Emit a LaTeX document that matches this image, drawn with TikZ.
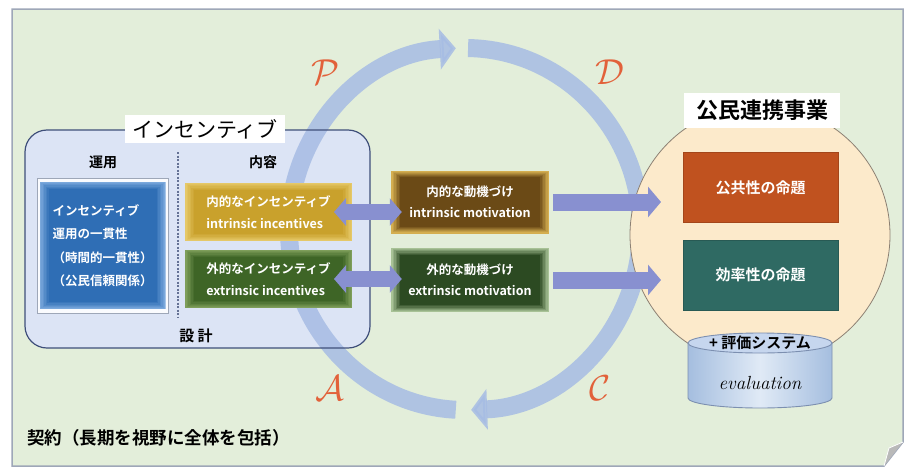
\documentclass[tikz,border=0pt]{standalone}
\usepackage{fontspec}
\usetikzlibrary{arrows.meta}
\newfontfamily\jp{Noto Sans CJK JP}[BoldFont={Noto Sans CJK JP Bold}]
\definecolor{pagebg}{HTML}{E3EEDA}
\definecolor{pageborder}{HTML}{9EA7B8}
\definecolor{incfill}{HTML}{DCE4F5}
\definecolor{incborder}{HTML}{3F4F7A}
\definecolor{cyc}{HTML}{A6BCE4}
\definecolor{flowc}{HTML}{8890D0}
\definecolor{bluebox}{HTML}{2F6EB5}
\definecolor{blueedge}{HTML}{7AA8DC}
\definecolor{goldbox}{HTML}{C9A12C}
\definecolor{goldedge}{HTML}{E5C868}
\definecolor{greenbox}{HTML}{3E6526}
\definecolor{greenedge}{HTML}{7E9E5A}
\definecolor{mbrown}{HTML}{6B4A16}
\definecolor{mgold}{HTML}{D4AE50}
\definecolor{mgreen}{HTML}{2C4A22}
\definecolor{mlgreen}{HTML}{A8C296}
\definecolor{cream}{HTML}{FCEACB}
\definecolor{orangebox}{HTML}{C0521F}
\definecolor{tealbox}{HTML}{2F6A63}
\definecolor{cylside}{HTML}{A5BEDF}
\definecolor{cylmid}{HTML}{E0EAF6}
\definecolor{cyltop}{HTML}{C6D6EE}
\definecolor{cylborder}{HTML}{7C8FB0}
\definecolor{pdca}{HTML}{E2613A}
\tikzset{
  jpfont/.style={font=\jp\bfseries\fontsize{#1}{#1}\selectfont},
  incitem/.style={rectangle, minimum width=167pt, minimum height=58pt, line width=2pt, text=white,
     align=left, font=\jp\bfseries\fontsize{12.5}{22}\selectfont, inner sep=0pt},
  glow/.style 2 args={path picture={
     \foreach \i/\c in {0/100,1.5/85,3/68,4.5/50,6/32,7.5/16,9/0}
       \fill[#1!\c!#2] ([shift={(\i pt,-0.75*\i pt)}]path picture bounding box.north west)
          rectangle ([shift={(-\i pt,0.75*\i pt)}]path picture bounding box.south east);}},
  motbox/.style={rectangle, minimum width=158pt, minimum height=63pt, text=white,
     align=center, font=\jp\bfseries\fontsize{12.5}{21}\selectfont, inner sep=0pt},
  propbox/.style={rectangle, minimum width=155pt, minimum height=70pt, text=white,
     font=\jp\bfseries\fontsize{15}{15}\selectfont},
  cycarrow/.style={draw=cyc, line width=18pt, opacity=0.85, -{Triangle[width=40pt,length=16pt]}},
  flow/.style={draw=flowc, line width=17pt, -{Triangle[width=30pt,length=13pt]}},
  dblflow/.style={draw=flowc, line width=16pt, {Triangle[width=27pt,length=12pt]}-{Triangle[width=27pt,length=12pt]}},
  pdcaletter/.style={text=pdca, font=\Huge, scale=1.45, transform shape, inner sep=0pt},
}
\begin{document}
\begin{tikzpicture}[x=1pt,y=-1pt]
\useasboundingbox (0,0) rectangle (910,471);
% page
\fill[white] (0,0) rectangle (910,471);
\draw[fill=pagebg, draw=pageborder, line width=1.5pt] (12,9) -- (903,9) -- (903,442) -- (884,466) -- (12,466) -- cycle;
\fill[gray!55] (903,442) -- (884,466) -- (889,448) -- cycle;
\draw[white, line width=0.8pt] (884,466) -- (889,448) -- (903,442);
% incentive box
\node[rectangle, fill=incfill, rounded corners=22pt, minimum width=345pt, minimum height=218pt] (incbox) at (197.5,239) {};
% cycle arcs
\coordinate (cc) at (465,229);
\draw[cycarrow] (cc) ++(267:176pt and 181pt) arc[start angle=267, end angle=93, x radius=176pt, y radius=181pt];
\draw[cycarrow] (cc) ++(89:176pt and 181pt) arc[start angle=89, end angle=-88, x radius=176pt, y radius=181pt];
% incentive box border
\draw[incborder, line width=1.2pt, rounded corners=22pt] (25,130) rectangle (370,348);
\node[rectangle, fill=white, minimum width=160pt, minimum height=28pt, font=\jp\fontsize{21}{21}\selectfont, inner sep=0pt] (inclabel) at (205,129) {インセンティブ};
\node[jpfont=14] (unyo) at (103,162) {運用};
\node[jpfont=14] (naiyo) at (263,162) {内容};
\node[jpfont=15] (sekkei) at (196,336) {設\ 計};
\draw[incborder!80, line width=1.2pt, dash pattern=on 2pt off 1.5pt] (178,152) -- (178,318);
\node[rectangle, draw=pageborder, fill=white!85!incfill, line width=0.8pt, minimum width=131pt, minimum height=135pt] (blueframe) at (102.5,245.5) {};
\node[rectangle, glow={blueedge}{bluebox}, minimum width=126pt, minimum height=127pt, text=white, align=left,
      font=\jp\bfseries\fontsize{12.5}{23.5}\selectfont] (bluebox) at (102.5,245.5) {インセンティブ\\運用の一貫性\\（時間的一貫性）\\（公民信頼関係）};
\node[incitem, glow={goldedge}{goldbox}] (inc1) at (268.5,212) {内的なインセンティブ\\intrinsic incentives};
\node[incitem, glow={greenedge}{greenbox}] (inc2) at (268.5,279) {外的なインセンティブ\\extrinsic incentives};
% motivation boxes
\node[motbox, glow={mgold}{mbrown}] (mot1) at (470,202) {内的な動機づけ\\intrinsic motivation};
\node[motbox, glow={mlgreen}{mgreen}, minimum height=64pt] (mot2) at (470,280) {外的な動機づけ\\extrinsic motivation};
\draw[dblflow] ([xshift=-19pt]inc1.east) -- ([xshift=11pt]mot1.west |- inc1.east);
\draw[dblflow] ([xshift=-19pt]inc2.east) -- ([xshift=11pt]mot2.west |- inc2.east);
% public-private side
\node[circle, fill=cream, draw=gray!80!brown, line width=0.8pt, minimum size=260pt, inner sep=0pt] (pubcircle) at (760,235) {};
\coordinate (e1) at (661,202);
\coordinate (e2) at (661,280);
\draw[flow] ([xshift=4pt]mot1.east) -- (e1);
\draw[flow] ([xshift=4pt]mot2.east) -- (e2);
\node[rectangle, fill=white, minimum width=156pt, minimum height=35pt, inner sep=0pt, jpfont=22] (publabel) at (762,110) {公民連携事業};
\node[propbox, fill=orangebox, draw=orangebox!85!black] (pub) at (760.5,187.5) {公共性の命題};
\node[propbox, fill=tealbox, draw=tealbox!85!black] (eff) at (760.5,275) {効率性の命題};
% cylinder
\shade[left color=cylside, right color=cylside, middle color=cylmid, draw=cylborder, line width=0.9pt]
  (688,343) -- (688,398) arc[start angle=180, end angle=360, x radius=72pt, y radius=10pt] -- (832,343) -- cycle;
\draw[fill=cyltop, draw=cylborder, line width=0.9pt] (760,343) ellipse[x radius=72pt, y radius=10pt];
\node[jpfont=15] (evalsys) at (760,343) {+ 評価システム};
\node[font=\itshape\fontsize{19}{19}\selectfont] (evaltext) at (760,383) {evaluation};
% PDCA letters
\node[pdcaletter] (lp) at (326,72) {$\mathcal{P}$};
\node[pdcaletter] (ld) at (610,72) {$\mathcal{D}$};
\node[pdcaletter] (la) at (330,388) {$\mathcal{A}$};
\node[pdcaletter] (lc) at (600,388) {$\mathcal{C}$};
% contract
\node[jpfont=17.5, anchor=west, inner sep=0pt] (contract) at (27,438) {契約（長期を視野に全体を包括）};
\end{tikzpicture}
\end{document}
